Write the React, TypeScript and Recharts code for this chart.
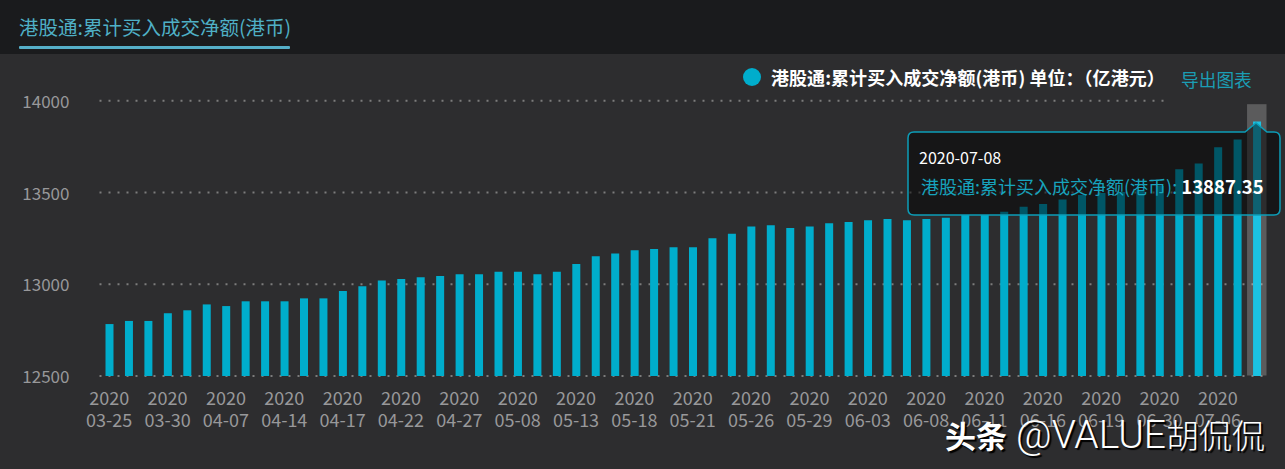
import React from 'react';
import { BarChart, Bar, XAxis, YAxis, CartesianGrid, Tooltip, Legend, Cell } from 'recharts';

const SERIES_NAME = '港股通:累计买入成交净额(港币)';
const YEAR = '2020';
const dates = [
  '03-25','03-26','03-27','03-30','03-31','04-01','04-07','04-08','04-09','04-14',
  '04-15','04-16','04-17','04-20','04-21','04-22','04-23','04-24','04-27','04-28',
  '04-29','05-08','05-11','05-12','05-13','05-14','05-15','05-18','05-19','05-20',
  '05-21','05-22','05-25','05-26','05-27','05-28','05-29','06-01','06-02','06-03',
  '06-04','06-05','06-08','06-09','06-10','06-11','06-12','06-15','06-16','06-17',
  '06-18','06-19','06-22','06-23','06-30','07-02','07-03','07-06','07-07','07-08',
];
const values = [
  12783,12800,12800,12842,12858,12890,12881,12907,12907,12907,
  12923,12923,12963,12989,13021,13028,13038,13045,13054,13054,
  13068,13068,13054,13068,13110,13152,13168,13185,13192,13201,
  13201,13250,13275,13315,13322,13306,13315,13332,13339,13348,
  13355,13348,13355,13362,13377,13377,13395,13422,13437,13462,
  13486,13497,13502,13513,13535,13626,13658,13747,13789,13887.35,
];
const yTicks = [12500, 13000, 13500, 14000];
const rows = dates.map((d, i) => ({ date: d, value: values[i] }));

const FONT = '"Noto Sans CJK SC", "Noto Sans", sans-serif';
const TEAL = '#00adcc';
const TEAL_ACTIVE = '#1cc2e2';
const LAST = dates.length - 1;

function XTick(props: any) {
  const { x, y, payload } = props;
  return (
    <g>
      <text x={x} y={y} textAnchor="middle" fill="#98989a" fontSize={18} fontFamily={FONT}>{YEAR}</text>
      <text x={x} y={y + 22} textAnchor="middle" fill="#98989a" fontSize={18} fontFamily={FONT}>{payload.value}</text>
    </g>
  );
}

function GridLine(props: any) {
  const { x1, x2, y1, y2 } = props;
  const isTop = y1 < 150;
  const end = isTop ? x1 + (x2 - x1) * 0.912 : x2;
  return <line x1={x1} x2={end} y1={y1} y2={y2} stroke="#7c7c7c" strokeWidth={2} strokeDasharray="2 7" />;
}

function BandCursor(props: any) {
  const { x, y, width, height } = props;
  return <rect x={x} y={y + 3} width={width} height={height - 3} fill="rgba(255,255,255,0.22)" />;
}

function TipContent(props: any) {
  const { payload, label } = props;
  if (!payload || !payload.length) return null;
  const w = 372, h = 93;
  const ax = 348, top = 10, r = 6;
  const d = `M${r} ${top} H${ax - 11} L${ax} 1 L${ax + 11} ${top} H${w - r} Q${w} ${top} ${w} ${top + r} V${h - r} Q${w} ${h} ${w - r} ${h} H${r} Q0 ${h} 0 ${h - r} V${top + r} Q0 ${top} ${r} ${top} Z`;
  return (
    <div style={{ position: 'relative', width: w + 2, height: h + 2, fontFamily: FONT }}>
      <svg width={w + 2} height={h + 2} style={{ position: 'absolute', left: 0, top: 0 }}>
        <path d={d} transform="translate(1 1)" fill="rgba(0,0,0,0.5)" stroke="#0c9db8" strokeWidth={1.5} />
      </svg>
      <div style={{ position: 'absolute', left: 12, top: 26, color: '#fff', fontSize: 16, lineHeight: '20px', whiteSpace: 'nowrap' }}>
        {YEAR}-{label}
      </div>
      <div style={{ position: 'absolute', left: 14, top: 53, fontSize: 18, lineHeight: '24px', whiteSpace: 'nowrap', color: '#17a3bd' }}>
        {payload[0].name}: <b style={{ color: '#fff', fontWeight: 700, fontSize: 18.5 }}>{payload[0].value}</b>
      </div>
    </div>
  );
}

function LegendContent(props: any) {
  const item = props.payload && props.payload[0];
  if (!item) return null;
  return (
    <div style={{ display: 'flex', alignItems: 'center', fontFamily: FONT, whiteSpace: 'nowrap' }}>
      <span style={{ width: 18, height: 18, borderRadius: 9, background: TEAL, marginRight: 10, display: 'inline-block' }} />
      <span style={{ color: '#fff', fontWeight: 700, fontSize: 18, lineHeight: '22px', letterSpacing: 0.05 }}>{item.value} 单位：（亿港元）</span>
    </div>
  );
}

export default function App() {
  return (
    <div style={{ position: 'fixed', left: 0, top: 0, width: 1285, height: 469, background: '#2d2d2f', overflow: 'hidden', fontFamily: FONT }}>
      <div style={{ position: 'absolute', left: 0, top: 0, width: 1285, height: 54, background: '#1a1b1d' }} />
      <div style={{ position: 'absolute', left: 19, top: 13, color: '#4fb0c6', fontSize: 19.5, lineHeight: '28px', whiteSpace: 'nowrap' }}>{SERIES_NAME}</div>
      <div style={{ position: 'absolute', left: 19, top: 45.5, width: 271, height: 3, background: '#55afc8', borderRadius: 1 }} />
      <div style={{ position: 'absolute', left: 1181, top: 67, color: '#1b9db4', fontSize: 17.7, lineHeight: '24px', whiteSpace: 'nowrap' }}>导出图表</div>
      <div style={{ position: 'absolute', left: 0, top: 0 }}>
        <BarChart width={1285} height={469} data={rows} margin={{ top: 78.7, right: 18.5, bottom: 0, left: 0.5 }} barCategoryGap={0}>
          <CartesianGrid vertical={false} horizontal={GridLine as any} />
          <XAxis dataKey="date" interval={2} axisLine={false} tickLine={false} tick={<XTick />} tickMargin={23} height={93} />
          <YAxis domain={[12500, 14000]} ticks={yTicks} width={99} axisLine={false} tickLine={false} tickMargin={24}
            tick={{ fill: '#98989a', fontSize: 17, fontFamily: FONT, dy: 1 }} allowDataOverflow />
          <Legend verticalAlign="top" align="left" content={<LegendContent />}
            wrapperStyle={{ position: 'absolute', left: 743, top: 66, width: 440, height: 22 }} />
          <Tooltip active defaultIndex={LAST} content={<TipContent />} cursor={<BandCursor />} position={{ x: 907, y: 121 }}
            allowEscapeViewBox={{ x: true, y: true }} isAnimationActive={false} wrapperStyle={{ outline: 'none' }} />
          <Bar dataKey="value" name={SERIES_NAME} fill={TEAL} barSize={8} isAnimationActive={false} activeBar={false}>
            {rows.map((r, i) => <Cell key={r.date} fill={i === LAST ? TEAL_ACTIVE : TEAL} />)}
          </Bar>
        </BarChart>
      </div>
      <div style={{ position: 'absolute', left: 945, top: 413, color: '#fff', lineHeight: '42px', whiteSpace: 'nowrap', textShadow: '2px 2px 1px #000' }}>
        <b style={{ fontSize: 31 }}>头条</b>
        <span style={{ fontFamily: 'Roboto', fontWeight: 300, fontSize: 39, marginLeft: 9 }}>@VALUE</span>
        <span style={{ fontWeight: 300, fontSize: 33 }}>胡侃侃</span>
      </div>
    </div>
  );
}
